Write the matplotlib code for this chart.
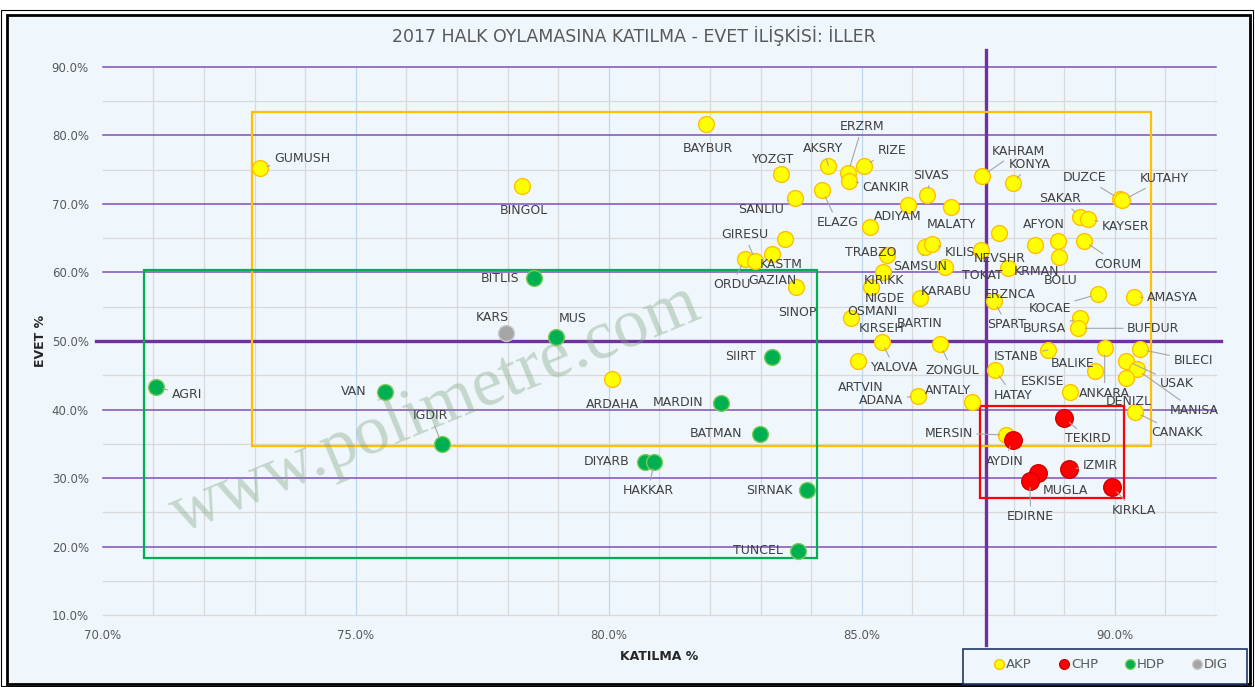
import matplotlib
matplotlib.use("Agg")
import matplotlib.pyplot as plt
from matplotlib.patches import Rectangle
from matplotlib.lines import Line2D

W, H = 1255, 687

# --- veri: il, katilma %, evet %, parti ---
iller = ["GUMUSH", "BINGOL", "BAYBUR", "YOZGT", "AKSRY", "SANLIU", "ELAZG", "KASTM",
         "ORDU", "GIRESU", "GAZIAN", "SINOP", "ARDAHA", "ERZRM", "CANKIR", "RIZE",
         "ADIYAM", "SIVAS", "MALATY", "TRABZO", "BARTIN", "SAMSUN", "KILIS", "TOKAT",
         "KAHRAM", "KONYA", "DUZCE", "KUTAHY", "SAKAR", "KAYSER", "ERZNCA", "NEVSHR",
         "KRMAN", "KIRSEH", "AFYON", "BOLU", "CORUM", "KIRIKK", "NIGDE", "KARABU",
         "OSMANI", "YALOVA", "ARTVIN", "ZONGUL", "SPART", "KOCAE", "AMASYA", "BURSA",
         "BUFDUR", "ISTANB", "ANKARA", "ESKISE", "BALIKE", "HATAY", "BILECI", "USAK",
         "MANISA", "DENIZL", "CANAKK", "ADANA", "ANTALY", "MERSIN",
         "TEKIRD", "AYDIN", "IZMIR", "MUGLA", "EDIRNE", "KIRKLA",
         "AGRI", "VAN", "IGDIR", "BITLIS", "MUS", "SIIRT", "MARDIN", "BATMAN",
         "DIYARB", "HAKKAR", "SIRNAK", "TUNCEL",
         "KARS"]
katilma = [73.11, 78.28, 81.92, 83.41, 84.34, 83.68, 84.22, 83.49,
           82.69, 82.90, 83.22, 83.70, 80.06, 84.73, 84.75, 85.04,
           85.91, 86.28, 86.76, 85.16, 85.49, 86.24, 86.38, 86.64,
           87.38, 87.98, 90.10, 90.15, 89.32, 89.47, 87.71, 87.36,
           87.89, 88.43, 88.88, 88.90, 89.39, 85.42, 85.19, 86.15,
           84.78, 85.39, 84.93, 86.54, 87.61, 89.66, 90.37, 89.32,
           89.28, 88.68, 89.80, 89.11, 89.60, 87.63, 90.50, 90.23,
           90.43, 90.23, 90.39, 86.11, 87.18, 87.86,
           89.00, 87.98, 89.10, 88.48, 88.32, 89.95,
           71.05, 75.58, 76.70, 78.52, 78.95, 83.23, 82.21, 82.99,
           80.71, 80.90, 83.92, 83.73,
           77.97]
evet = [75.27, 72.65, 81.69, 74.35, 75.56, 70.85, 71.95, 64.92,
        62.00, 61.71, 62.68, 57.87, 44.50, 74.54, 73.33, 75.56,
        69.79, 71.29, 69.58, 66.58, 62.54, 63.66, 64.10, 60.75,
        74.06, 73.00, 70.65, 70.50, 68.13, 67.75, 65.70, 63.27,
        60.60, 64.00, 64.62, 62.29, 64.58, 60.02, 57.92, 56.22,
        53.31, 49.90, 47.08, 49.52, 55.88, 56.81, 56.37, 53.31,
        51.85, 48.68, 48.93, 42.60, 45.67, 45.77, 48.79, 47.12,
        45.87, 44.56, 39.69, 42.02, 41.06, 36.29,
        38.81, 35.56, 31.29, 30.79, 29.62, 28.75,
        43.25, 42.60, 34.93, 59.14, 50.54, 47.71, 41.00, 36.44,
        32.40, 32.40, 28.27, 19.42,
        51.12]
parti = ["AKP"] * 62 + ["CHP"] * 6 + ["HDP"] * 12 + ["DIG"]
partiler = ["AKP", "CHP", "HDP", "DIG"]

# etiket yeri: (saga px, asagi px, kilavuz cizgi)
etiket = {
    "GUMUSH": (42, -9, True), "BINGOL": (2, 25, False), "BAYBUR": (2, 25, False),
    "YOZGT": (-8, -15, False), "AKSRY": (-5, -17, True), "SANLIU": (-34, 11, True),
    "ELAZG": (15, 32, True), "KASTM": (-4, 26, False), "ORDU": (-13, 26, True),
    "GIRESU": (-11, -26, True), "GAZIAN": (1, 26, False), "SINOP": (1, 25, False),
    "ARDAHA": (1, 26, False), "ERZRM": (14, -46, True), "CANKIR": (37, 6, True),
    "RIZE": (28, -15, True), "ADIYAM": (-10, 11, False), "SIVAS": (5, -20, True),
    "MALATY": (1, 18, False), "TRABZO": (1, 25, False), "BARTIN": (33, 68, False),
    "SAMSUN": (-4, 19, True), "KILIS": (28, 8, True), "TOKAT": (38, 8, False),
    "KAHRAM": (36, -25, True), "KONYA": (17, -19, True), "DUZCE": (-35, -22, True),
    "KUTAHY": (42, -22, True), "SAKAR": (-20, -18, True), "KAYSER": (38, 7, True),
    "ERZNCA": (11, 61, False), "NEVSHR": (18, 8, False), "KRMAN": (28, 3, False),
    "KIRSEH": (-154, 84, False), "AFYON": (-14, -16, True), "BOLU": (1, 24, False),
    "CORUM": (34, 23, True), "KIRIKK": (1, 8, False), "NIGDE": (13, 12, False),
    "KARABU": (26, -7, False), "OSMANI": (22, -7, False), "YALOVA": (13, 26, True),
    "ARTVIN": (2, 26, False), "ZONGUL": (13, 26, True), "SPART": (13, 24, True),
    "KOCAE": (-48, 14, True), "AMASYA": (39, 0, True), "BURSA": (-36, 10, True),
    "BUFDUR": (75, 0, True), "ISTANB": (-32, 6, True), "ANKARA": (0, 45, True),
    "ESKISE": (-27, -10, False), "BALIKE": (-22, -7, False), "HATAY": (18, 25, True),
    "BILECI": (53, 11, True), "USAK": (50, 23, True), "MANISA": (58, 41, True),
    "DENIZL": (2, 23, False), "CANAKK": (42, 21, True), "ADANA": (-37, 5, True),
    "ANTALY": (-24, -12, False), "MERSIN": (-58, -2, True),
    "TEKIRD": (24, 21, True), "AYDIN": (-8, 21, True), "IZMIR": (31, -4, True),
    "MUGLA": (28, 18, False), "EDIRNE": (1, 36, True), "KIRKLA": (22, 24, True),
    "AGRI": (31, 7, True), "VAN": (-31, 0, False), "IGDIR": (-11, -29, True),
    "BITLIS": (-34, 0, False), "MUS": (17, -19, False), "SIIRT": (-32, 0, False),
    "MARDIN": (-43, 0, False), "BATMAN": (-44, 0, False), "DIYARB": (-38, 0, False),
    "HAKKAR": (-6, 29, True), "SIRNAK": (-38, 0, False), "TUNCEL": (-40, 0, False),
    "KARS": (-14, -16, False),
}

renk = {"AKP": ("#FFFF00", "#FFC000"), "CHP": ("#FF0000", "#D00000"),
        "HDP": ("#00B050", "#7ACB5A"), "DIG": ("#A5A5A5", "#C8C8C8")}

# bolge kutulari (x0, x1, y0, y1)
kutular = [((72.95, 90.71, 34.73, 83.44), "#FFC000"),
           ((70.81, 84.12, 18.39, 60.35), "#00B050"),
           ((87.34, 90.18, 27.10, 40.52), "#FF0000")]

zemin = "#EFF6FC"
fig = plt.figure(figsize=(W / 100, H / 100), dpi=100)
fig.patch.set_facecolor("white")
fig.add_artist(Rectangle((1 / W, 1 - 686 / H), 1252 / W, 676 / H, transform=fig.transFigure,
                         facecolor="none", edgecolor="black", lw=0.8, zorder=-2))
fig.add_artist(Rectangle((7 / W, 1 - 684 / H), 1243 / W, 669 / H, transform=fig.transFigure,
                         facecolor=zemin, edgecolor="black", lw=2.0, zorder=-1))

ax = fig.add_axes([102.7 / W, 1 - 615.3 / H, (1216 - 102.7) / W, (615.3 - 66.7) / H])
ax.set_facecolor("none")
ax.set_xlim(70, 92)
ax.set_ylim(10, 90)
for s in ax.spines.values():
    s.set_visible(False)

# izgara
for x in range(71, 93):
    ax.axvline(x, color="#BDD7EE" if x % 5 == 0 else "#D9D9D9", lw=0.9, zorder=0)
for y in range(10, 91, 5):
    if y == 50:
        continue
    if y % 10 == 0 and y > 10:
        ax.axhline(y, color="#8050B8", lw=1.1, zorder=0.5, clip_on=False)
    else:
        ax.axhline(y, color="#D9D9D9", lw=0.9, zorder=0, clip_on=False)

ax.plot([69.87, 92.09], [50, 50], color="#7030A0", lw=2.4, clip_on=False, zorder=1)
ax.plot([87.45, 87.45], [5.6, 92.45], color="#7030A0", lw=2.4, clip_on=False, zorder=1)

for (x0, x1, y0, y1), c in kutular:
    ax.add_patch(Rectangle((x0, y0), x1 - x0, y1 - y0, fill=False, edgecolor=c, lw=1.6, zorder=2))

ax.text(436 / W, 1 - 410 / H, "www.polimetre.com", rotation=22.4, fontsize=50,
        family="Liberation Serif", color="#7FA47F", alpha=0.38, ha="center", va="center",
        transform=fig.transFigure, zorder=2.5)

for p in partiler:
    xs = [katilma[i] for i in range(len(iller)) if parti[i] == p]
    ys = [evet[i] for i in range(len(iller)) if parti[i] == p]
    ax.scatter(xs, ys, s=160 if p == "CHP" else 130, c=renk[p][0], edgecolors=renk[p][1],
               linewidths=1.0, zorder=3)

for i, ad in enumerate(iller):
    dx, dy, kilavuz = etiket[ad]
    ok = dict(arrowstyle="-", color="#A6A6A6", lw=0.8, shrinkA=1, shrinkB=5) if kilavuz else None
    ax.annotate(ad, (katilma[i], evet[i]), xytext=(dx, -dy), textcoords="offset pixels",
                ha="center", va="center", fontsize=9, color="#404040", zorder=5,
                arrowprops=ok)

ax.set_xticks([70, 75, 80, 85, 90])
ax.set_xticklabels([f"{v:.1f}%" for v in [70, 75, 80, 85, 90]])
ax.set_yticks(range(10, 91, 10))
ax.set_yticklabels([f"{v:.1f}%" for v in range(10, 91, 10)])
ax.tick_params(length=0, labelsize=8.5, labelcolor="#595959", pad=10)

fig.text(634 / W, 1 - 36 / H, "2017 HALK OYLAMASINA KATILMA - EVET İLİŞKİSİ: İLLER",
         ha="center", va="center", fontsize=12.5, color="#595959")
fig.text(659 / W, 1 - 657 / H, "KATILMA %", ha="center", va="center", fontsize=9,
         fontweight="bold", color="#262626")
fig.text(40 / W, 1 - 341 / H, "EVET %", ha="center", va="center", rotation=90,
         fontsize=9, fontweight="bold", color="#262626")

# lejant kutusu
fig.add_artist(Rectangle((963 / W, 1 - 684 / H), 284 / W, 35 / H, transform=fig.transFigure,
                         facecolor=zemin, edgecolor="#203864", lw=1.2, zorder=4))
tutamak = [Line2D([], [], marker="o", ls="", markersize=7, markerfacecolor=renk[p][0],
                  markeredgecolor=renk[p][1]) for p in partiler]
lg = fig.legend(tutamak, partiler, loc="center", bbox_to_anchor=(1111 / W, 1 - 665 / H),
                ncol=4, frameon=False, fontsize=9.5, labelcolor="#595959",
                handletextpad=0.15, handlelength=0.8, columnspacing=2.0, borderaxespad=0)
lg.set_zorder(5)

fig.savefig("out.png", dpi=100)
